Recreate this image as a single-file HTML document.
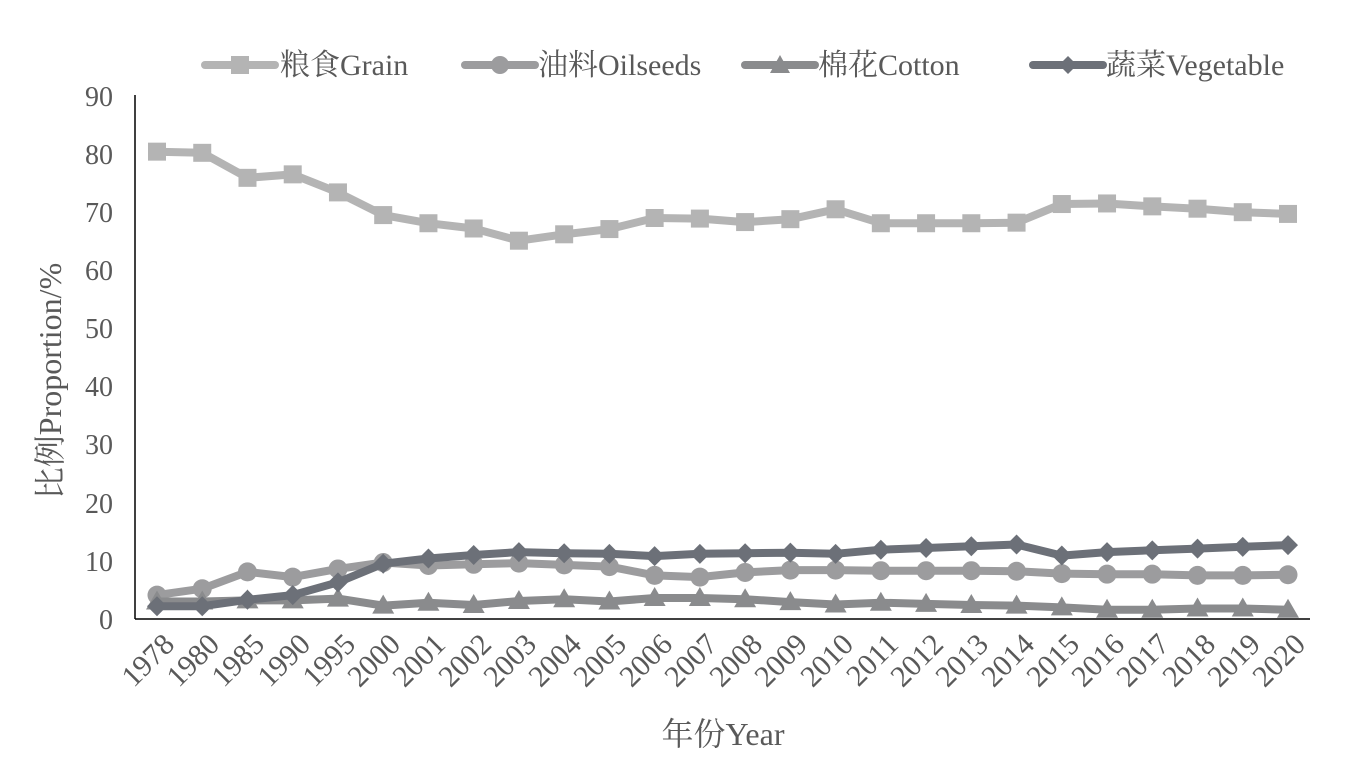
<!DOCTYPE html>
<html><head><meta charset="utf-8"><style>
body{margin:0;background:#fff}
svg text{font-family:"Liberation Serif","Noto Serif CJK SC",serif;fill:#595959}
</style></head><body>
<svg id="s" width="1354" height="765" xmlns="http://www.w3.org/2000/svg">
<g font-size="28" text-anchor="end">
<text x="113" y="629">0</text><text x="113" y="571">10</text><text x="113" y="513">20</text><text x="113" y="454">30</text><text x="113" y="396">40</text><text x="113" y="338">50</text><text x="113" y="280">60</text><text x="113" y="222">70</text><text x="113" y="164">80</text><text x="113" y="106">90</text>
</g>
<line x1="135" y1="95" x2="135" y2="619" stroke="#000" stroke-width="1.5"/>
<line x1="135" y1="619" x2="1310" y2="619" stroke="#000" stroke-width="1.5"/>
<g font-size="30" text-anchor="end">
<text transform="translate(176,646) rotate(-45)">1978</text>
<text transform="translate(221,646) rotate(-45)">1980</text>
<text transform="translate(266,646) rotate(-45)">1985</text>
<text transform="translate(312,646) rotate(-45)">1990</text>
<text transform="translate(357,646) rotate(-45)">1995</text>
<text transform="translate(402,646) rotate(-45)">2000</text>
<text transform="translate(447,646) rotate(-45)">2001</text>
<text transform="translate(493,646) rotate(-45)">2002</text>
<text transform="translate(538,646) rotate(-45)">2003</text>
<text transform="translate(583,646) rotate(-45)">2004</text>
<text transform="translate(628,646) rotate(-45)">2005</text>
<text transform="translate(674,646) rotate(-45)">2006</text>
<text transform="translate(719,646) rotate(-45)">2007</text>
<text transform="translate(764,646) rotate(-45)">2008</text>
<text transform="translate(809,646) rotate(-45)">2009</text>
<text transform="translate(855,646) rotate(-45)">2010</text>
<text transform="translate(900,646) rotate(-45)">2011</text>
<text transform="translate(945,646) rotate(-45)">2012</text>
<text transform="translate(990,646) rotate(-45)">2013</text>
<text transform="translate(1036,646) rotate(-45)">2014</text>
<text transform="translate(1081,646) rotate(-45)">2015</text>
<text transform="translate(1126,646) rotate(-45)">2016</text>
<text transform="translate(1171,646) rotate(-45)">2017</text>
<text transform="translate(1217,646) rotate(-45)">2018</text>
<text transform="translate(1262,646) rotate(-45)">2019</text>
<text transform="translate(1307,646) rotate(-45)">2020</text>
</g>
<text x="723" y="745" font-size="32" text-anchor="middle">年份Year</text>
<text transform="translate(61,381) rotate(-90)" font-size="32" text-anchor="middle">比例Proportion/%</text>
<g font-size="30">
<line x1="205" y1="65" x2="275" y2="65" stroke="#b4b4b4" stroke-width="8" stroke-linecap="round"/><rect x="231" y="56" width="18" height="18" fill="#b4b4b4"/><text x="280" y="75">粮食Grain</text>
<line x1="465" y1="65" x2="535" y2="65" stroke="#9c9c9e" stroke-width="8" stroke-linecap="round"/><circle cx="500" cy="65" r="9" fill="#9c9c9e"/><text x="538" y="75">油料Oilseeds</text>
<line x1="745" y1="65" x2="815" y2="65" stroke="#8a8b8d" stroke-width="8" stroke-linecap="round"/><path d="M780 55 L790 73 L770 73Z" fill="#8a8b8d"/><text x="818" y="75">棉花Cotton</text>
<line x1="1033" y1="65" x2="1103" y2="65" stroke="#6c7078" stroke-width="8" stroke-linecap="round"/><path d="M1068 56 L1077 65 L1068 74 L1059 65Z" fill="#6c7078"/><text x="1106" y="75">蔬菜Vegetable</text>
</g>
<g id="d"></g>
</svg>
<script>
var S=[
["#b4b4b4","sq",[80.3,80.1,75.8,76.4,73.3,69.4,68,67.1,65,66.1,67,68.9,68.8,68.2,68.7,70.4,68,68,68,68.1,71.3,71.4,70.9,70.5,69.9,69.6]],
["#9c9c9e","ci",[4.1,5.2,8.1,7.2,8.6,9.7,9.2,9.4,9.6,9.3,9.0,7.5,7.2,8.0,8.4,8.4,8.3,8.3,8.3,8.2,7.8,7.7,7.7,7.5,7.5,7.6]],
["#8a8b8d","tr",[3.0,3.0,3.2,3.2,3.5,2.3,2.8,2.4,3.1,3.4,3.0,3.6,3.6,3.4,2.9,2.5,2.8,2.6,2.4,2.3,2.0,1.6,1.6,1.8,1.8,1.6]],
["#6c7078","di",[2.2,2.2,3.3,4.1,6.3,9.5,10.4,11.0,11.5,11.3,11.2,10.8,11.2,11.3,11.4,11.2,11.9,12.2,12.5,12.8,10.9,11.5,11.8,12.1,12.4,12.7]]];
var h="";
S.forEach(function(s){var p=[],m="";s[2].forEach(function(v,i){var x=157+i*45.24,y=619-v*5.82;p.push(x.toFixed(1)+","+y.toFixed(1));
if(s[1]=="sq")m+='<rect x="'+(x-9)+'" y="'+(y-9)+'" width="18" height="18" fill="'+s[0]+'"/>';
if(s[1]=="ci")m+='<circle cx="'+x+'" cy="'+y+'" r="9.5" fill="'+s[0]+'"/>';
if(s[1]=="tr")m+='<path d="M'+x+' '+(y-11)+' L'+(x+11)+' '+(y+8)+' L'+(x-11)+' '+(y+8)+'Z" fill="'+s[0]+'"/>';
if(s[1]=="di")m+='<path d="M'+x+' '+(y-10)+' L'+(x+10)+' '+y+' L'+x+' '+(y+10)+' L'+(x-10)+' '+y+'Z" fill="'+s[0]+'"/>';});
h+='<polyline points="'+p.join(" ")+'" fill="none" stroke="'+s[0]+'" stroke-width="8" stroke-linejoin="round"/>'+m;});
document.getElementById("d").innerHTML=h;
</script>
</body></html>
